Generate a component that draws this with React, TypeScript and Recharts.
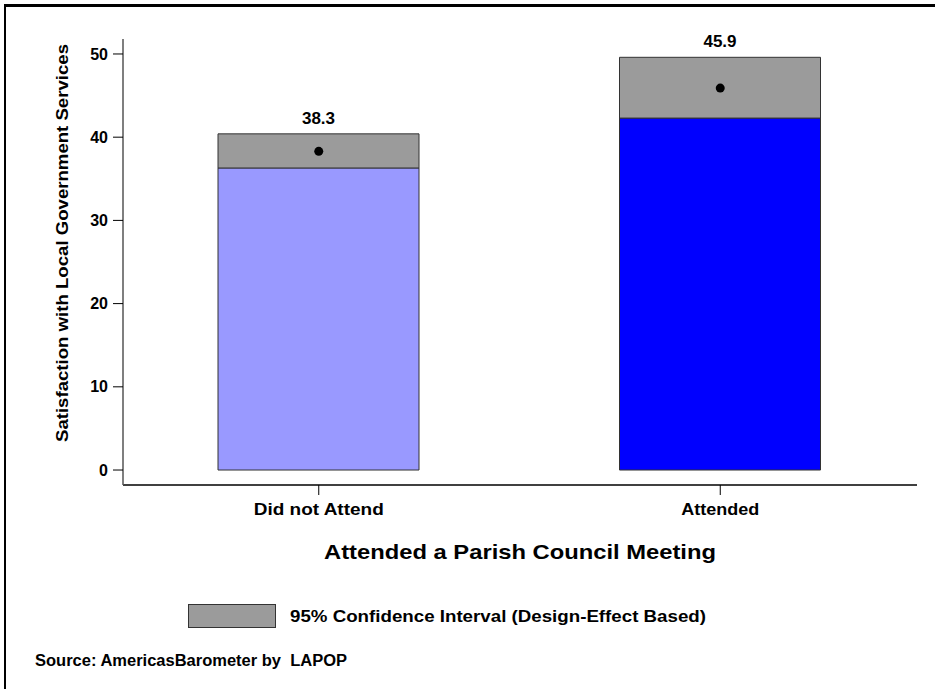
import React from "react";
import {
  ComposedChart,
  Bar,
  Scatter,
  XAxis,
  YAxis,
  Cell,
  LabelList,
} from "recharts";

const categories = ["Did not Attend", "Attended"];
const means = [38.3, 45.9];
const ciLow = [36.3, 42.3];
const ciHigh = [40.4, 49.6];
const barColors = ["#9999FF", "#0000FF"];
const yTicks = [0, 10, 20, 30, 40, 50];
const tickWidths: Record<string, number> = { "Did not Attend": 130, Attended: 78 };

const data = categories.map((c, i) => ({
  name: c,
  base: ciLow[i],
  ci: ciHigh[i] - ciLow[i],
  mean: means[i],
}));

const FONT = "'Liberation Sans', Arial, Helvetica, sans-serif";

const MeanLabel = (props: any) => {
  const { x, y, width, index } = props;
  return (
    <text
      x={x + width / 2}
      y={y - 10}
      textAnchor="middle"
      fontFamily={FONT}
      fontWeight="bold"
      fontSize={17}
      fill="#000"
    >
      {means[index].toFixed(1)}
    </text>
  );
};

const XTick = (props: any) => {
  const { x, y, payload } = props;
  const label = String(payload.value);
  return (
    <text
      x={x}
      y={y + 14}
      textAnchor="middle"
      fontFamily={FONT}
      fontWeight="bold"
      fontSize={17}
      fill="#000"
      textLength={tickWidths[label]}
      lengthAdjust="spacingAndGlyphs"
    >
      {label}
    </text>
  );
};

const YLabel = () => (
  <text
    x={62}
    y={243}
    transform="rotate(-90 62 243)"
    textAnchor="middle"
    dominantBaseline="central"
    fontFamily={FONT}
    fontWeight="bold"
    fontSize={17}
    fill="#000"
    textLength={398}
    lengthAdjust="spacingAndGlyphs"
  >
    Satisfaction with Local Government Services
  </text>
);

const XLabel = () => (
  <text
    x={520}
    y={551}
    textAnchor="middle"
    dominantBaseline="central"
    fontFamily={FONT}
    fontWeight="bold"
    fontSize={21}
    fill="#000"
    textLength={392}
    lengthAdjust="spacingAndGlyphs"
  >
    Attended a Parish Council Meeting
  </text>
);

export default function App() {
  return (
    <div
      style={{
        position: "absolute",
        left: 0,
        top: 0,
        width: 935,
        height: 689,
        overflow: "hidden",
        background: "#fff",
        fontFamily: FONT,
      }}
    >
      <div
        style={{
          position: "absolute",
          left: 4,
          top: 4,
          width: 1000,
          height: 1000,
          borderLeft: "2px solid #000",
          borderTop: "3px solid #000",
        }}
      />
      <ComposedChart
        width={935}
        height={689}
        data={data}
        margin={{ top: 39, left: 63, right: 18, bottom: 174 }}
        style={{ position: "absolute", left: 0, top: 0 }}
      >
        <XAxis
          dataKey="name"
          type="category"
          padding={{ left: -5, right: -4 }}
          axisLine={{ stroke: "#000", strokeWidth: 1.5 }}
          tickLine={{ stroke: "#000", strokeWidth: 1 }}
          tickSize={10}
          tickMargin={6}
          height={30}
          tick={<XTick />}
          label={<XLabel />}
        />
        <YAxis
          type="number"
          domain={[-1.8, 51.8]}
          ticks={yTicks}
          allowDataOverflow
          width={60}
          axisLine={{ stroke: "#555", strokeWidth: 1.5 }}
          tickLine={{ stroke: "#000", strokeWidth: 1 }}
          tickSize={10}
          tickMargin={5}
          tick={{ fill: "#000", fontSize: 16, fontWeight: "bold", fontFamily: FONT }}
          label={<YLabel />}
        />
        <Bar
          dataKey="base"
          stackId="s"
          barSize={201}
          stroke="#333"
          strokeWidth={1}
          isAnimationActive={false}
        >
          {data.map((d, i) => (
            <Cell key={d.name} fill={barColors[i]} />
          ))}
        </Bar>
        <Bar
          dataKey="ci"
          stackId="s"
          barSize={201}
          fill="#9B9B9B"
          stroke="#333"
          strokeWidth={1}
          isAnimationActive={false}
        >
          <LabelList dataKey="mean" content={<MeanLabel />} />
        </Bar>
        <Scatter
          dataKey="mean"
          fill="#000"
          shape={(p: any) => <circle cx={p.cx} cy={p.cy} r={4.5} fill="#000" />}
          isAnimationActive={false}
        />
      </ComposedChart>
      <svg
        width={935}
        height={689}
        style={{ position: "absolute", left: 0, top: 0, pointerEvents: "none" }}
      >
        <rect x={188.5} y={604.5} width={87} height={23} fill="#9B9B9B" stroke="#333" strokeWidth={1} />
        <text
          x={290}
          y={616}
          dominantBaseline="central"
          fontFamily={FONT}
          fontWeight="bold"
          fontSize={17}
          fill="#000"
          textLength={416}
          lengthAdjust="spacingAndGlyphs"
        >
          95% Confidence Interval (Design-Effect Based)
        </text>
        <text
          x={35}
          y={660}
          dominantBaseline="central"
          fontFamily={FONT}
          fontWeight="bold"
          fontSize={16}
          fill="#000"
          textLength={312}
          lengthAdjust="spacingAndGlyphs"
          xmlSpace="preserve"
        >
          Source: AmericasBarometer by  LAPOP
        </text>
      </svg>
    </div>
  );
}
